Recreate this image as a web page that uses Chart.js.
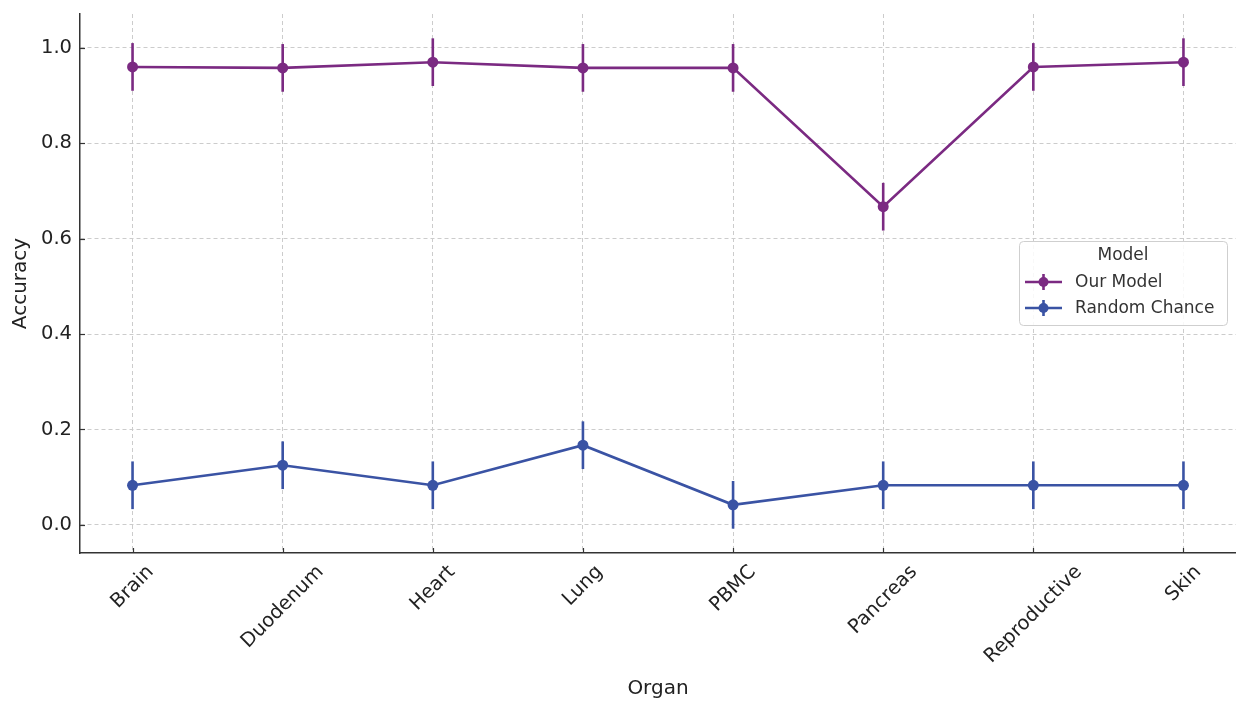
<!DOCTYPE html>
<html>
<head>
<meta charset="utf-8">
<script src="https://cdn.jsdelivr.net/npm/chart.js@4"></script>
<style>
  html, body { margin: 0; padding: 0; background: #fff; }
  #wrap { width: 1236px; height: 701px; }
</style>
</head>
<body>
<div id="wrap"><canvas id="myChart" width="1236" height="701"></canvas></div>
<script>
// data
const organs = ["Brain", "Duodenum", "Heart", "Lung", "PBMC", "Pancreas", "Reproductive", "Skin"];
const ourModel = [0.96, 0.958, 0.97, 0.958, 0.958, 0.667, 0.96, 0.97];
const ourModelErr = [0.05, 0.05, 0.05, 0.05, 0.05, 0.05, 0.05, 0.05];
const randomChance = [0.083, 0.125, 0.083, 0.167, 0.042, 0.083, 0.083, 0.083];
const randomChanceErr = [0.05, 0.05, 0.05, 0.05, 0.05, 0.05, 0.05, 0.05];
const yTicks = [0.0, 0.2, 0.4, 0.6, 0.8, 1.0];
const seriesNames = ["Our Model", "Random Chance"];
const legendTitle = "Model";

const purple = "#7b2a82";
const blue = "#3a53a4";
const FONT = "'DejaVu Sans', sans-serif";

const toPoints = (vals, errs) => vals.map((v, i) => ({x: i, y: v, err: errs[i]}));

// error bars, drawn through the scales
const errorBars = {
  id: "errorBars",
  beforeDatasetsDraw(chart) {
    const ctx = chart.ctx;
    const xs = chart.scales.x, ys = chart.scales.y;
    chart.data.datasets.forEach(ds => {
      ctx.save();
      ctx.strokeStyle = ds.borderColor;
      ctx.lineWidth = 2.6;
      ds.data.forEach(p => {
        const px = xs.getPixelForValue(p.x);
        ctx.beginPath();
        ctx.moveTo(px, ys.getPixelForValue(p.y - p.err));
        ctx.lineTo(px, ys.getPixelForValue(p.y + p.err));
        ctx.stroke();
      });
      ctx.restore();
    });
  }
};

// inward tick marks + rotated organ labels (centred like matplotlib)
const axisExtras = {
  id: "axisExtras",
  afterDraw(chart) {
    const ctx = chart.ctx;
    const a = chart.chartArea;
    const xs = chart.scales.x, ys = chart.scales.y;
    ctx.save();
    ctx.strokeStyle = "#333";
    ctx.lineWidth = 1.2;
    organs.forEach((o, i) => {
      const px = Math.round(xs.getPixelForValue(i)) + 0.5;
      ctx.beginPath(); ctx.moveTo(px, a.bottom); ctx.lineTo(px, a.bottom - 5); ctx.stroke();
    });
    yTicks.forEach(v => {
      const py = Math.round(ys.getPixelForValue(v)) + 0.5;
      ctx.beginPath(); ctx.moveTo(a.left, py); ctx.lineTo(a.left + 5, py); ctx.stroke();
    });
    const fs = 19.5;
    ctx.font = fs + "px " + FONT;
    ctx.fillStyle = "#222";
    ctx.textAlign = "center";
    ctx.textBaseline = "middle";
    const top = a.bottom + 8;
    const h = fs * 1.164;
    organs.forEach((o, i) => {
      const w = ctx.measureText(o).width;
      const boxH = (w + h) * Math.SQRT1_2;
      const px = xs.getPixelForValue(i);
      ctx.save();
      ctx.translate(px, top + boxH / 2);
      ctx.rotate(-Math.PI / 4);
      ctx.fillText(o, 0, 0);
      ctx.restore();
    });
    ctx.restore();
  }
};

// legend inside the plot with errorbar handles
const boxLegend = {
  id: "boxLegend",
  afterDraw(chart) {
    const ctx = chart.ctx;
    const a = chart.chartArea;
    const x0 = a.right - 217, y0 = 241, w = 208, h = 84;
    ctx.save();
    ctx.beginPath();
    ctx.roundRect(x0 + 0.5, y0 + 0.5, w, h, 4);
    ctx.fillStyle = "rgba(255,255,255,0.85)";
    ctx.fill();
    ctx.strokeStyle = "#cfcfcf";
    ctx.lineWidth = 1;
    ctx.stroke();
    ctx.font = "17px " + FONT;
    ctx.fillStyle = "#333";
    ctx.textBaseline = "middle";
    ctx.textAlign = "center";
    ctx.fillText(legendTitle, x0 + w / 2, y0 + 15);
    ctx.textAlign = "left";
    chart.data.datasets.forEach((ds, i) => {
      const cy = y0 + 41 + i * 26;
      ctx.strokeStyle = ds.borderColor;
      ctx.lineWidth = 2.6;
      ctx.beginPath(); ctx.moveTo(x0 + 6, cy); ctx.lineTo(x0 + 43, cy); ctx.stroke();
      ctx.beginPath(); ctx.moveTo(x0 + 24.5, cy - 8); ctx.lineTo(x0 + 24.5, cy + 8); ctx.stroke();
      ctx.fillStyle = ds.borderColor;
      ctx.beginPath(); ctx.arc(x0 + 24.5, cy, 5, 0, Math.PI * 2); ctx.fill();
      ctx.fillStyle = "#333";
      ctx.fillText(ds.label, x0 + 56, cy + 1);
    });
    ctx.restore();
  }
};

const ctx = document.getElementById("myChart");
new Chart(ctx, {
  type: "line",
  data: {
    datasets: [
      { label: seriesNames[0], data: toPoints(ourModel, ourModelErr), borderColor: purple, backgroundColor: purple,
        borderWidth: 2.6, pointRadius: 5.5, pointBorderWidth: 0, pointHoverRadius: 5.5, tension: 0 },
      { label: seriesNames[1], data: toPoints(randomChance, randomChanceErr), borderColor: blue, backgroundColor: blue,
        borderWidth: 2.6, pointRadius: 5.5, pointBorderWidth: 0, pointHoverRadius: 5.5, tension: 0 }
    ]
  },
  options: {
    responsive: false,
    animation: false,
    events: [],
    layout: { autoPadding: false, padding: { top: 14, right: 0, left: 0, bottom: 0 } },
    plugins: { legend: { display: false }, tooltip: { enabled: false } },
    scales: {
      x: {
        type: "linear",
        min: -0.35,
        max: organs.length - 1 + 0.35,
        afterBuildTicks: s => { s.ticks = organs.map((o, i) => ({value: i})); },
        afterFit: s => { s.height = 148; s.paddingLeft = 0; s.paddingRight = 0; },
        ticks: { display: false },
        grid: { color: "#cccccc", lineWidth: 1, drawTicks: false },
        border: { display: true, color: "#333", width: 1.5, dash: [4, 3] },
        title: { display: true, text: "Organ", color: "#222", font: { family: FONT, size: 20 }, padding: { top: 0, bottom: 0 } }
      },
      y: {
        min: -0.059,
        max: 1.071,
        afterBuildTicks: s => { s.ticks = yTicks.map(v => ({value: v})); },
        afterFit: s => { s.width = 80; s.paddingTop = 0; s.paddingBottom = 0; },
        ticks: { padding: 8, color: "#222", font: { family: FONT, size: 19.5 }, callback: v => v.toFixed(1) },
        grid: { color: "#cccccc", lineWidth: 1, drawTicks: false },
        border: { display: true, color: "#333", width: 1.5, dash: [4, 3] },
        title: { display: true, text: "Accuracy", color: "#222", font: { family: FONT, size: 20 }, padding: { top: 9, bottom: 0 } }
      }
    }
  },
  plugins: [errorBars, axisExtras, boxLegend]
});
</script>
</body>
</html>
